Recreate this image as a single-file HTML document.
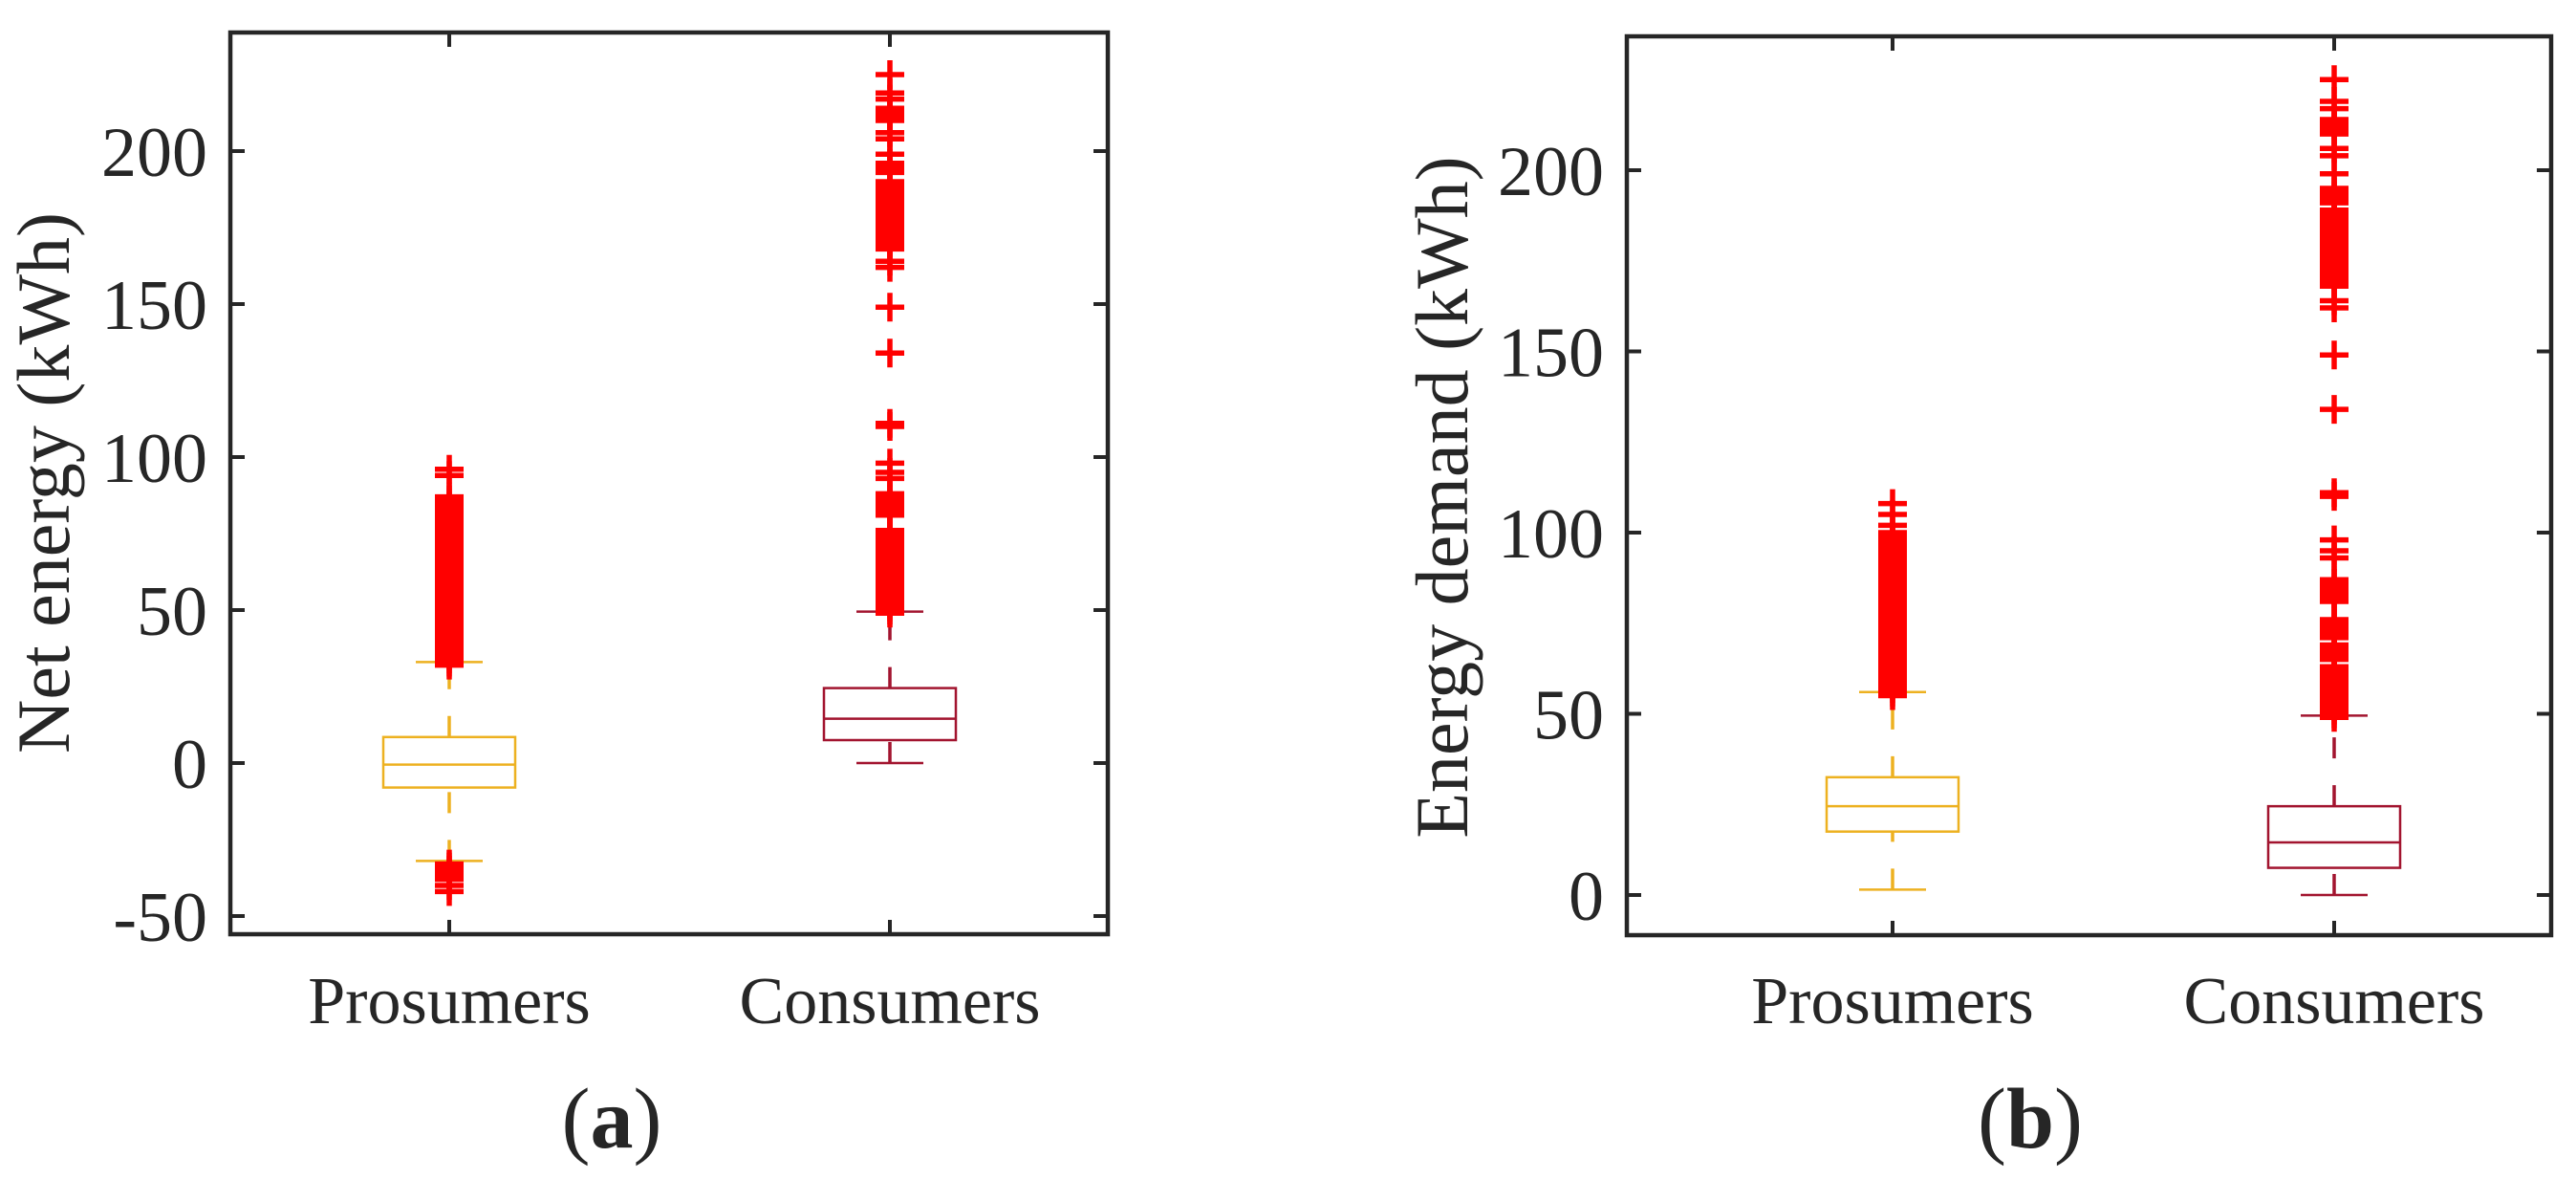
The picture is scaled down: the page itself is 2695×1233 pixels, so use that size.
<!DOCTYPE html>
<html><head><meta charset="utf-8">
<style>
html,body{margin:0;padding:0;background:#fff;}
svg{display:block;}
text{font-family:"Liberation Serif",serif;fill:#262626;}
</style></head>
<body>
<svg id="chart" width="2695" height="1233" viewBox="0 0 2695 1233" xmlns="http://www.w3.org/2000/svg"></svg>
<script>
// ---- data ----
const categories = ["Prosumers", "Consumers"];
const ticksA = [-50, 0, 50, 100, 150, 200];
const ticksB = [0, 50, 100, 150, 200];
// [lowerWhisker, q1, median, q3, upperWhisker]
const statsA_prosumers = [-32, -8, -0.5, 8.5, 33];
const statsA_consumers = [0, 7.5, 14.5, 24.5, 49.5];
const statsB_prosumers = [1.5, 17.5, 24.5, 32.5, 56];
const statsB_consumers = [0, 7.5, 14.5, 24.5, 49.5];
const outliersA_prosumers = [32,33,34,35,36,37,38,39,40,41,42,43,44,45,46,47,48,49,50,51,52,53,54,55,56,57,58,59,60,61,62,63,64,65,66,67,68,69,70,71,72,73,74,75,76,77,78,79,80,81,82,83,84,85,86,87,94,96,-33,-34,-35,-36,-37,-38,-40,-42];
const outliersA_consumers = [49,50,51,52,53,54,55,56,57,58,59,60,61,62,63,64,65,66,67,68,69,70,71,72,73,74,75,76,81,82,83,84,85,86,87,88,93,95,98,110,111,134,149,162,164,168,169,170,171,172,173,174,175,176,177,178,179,180,181,182,183,184,185,186,187,188,189,190,193,194,195,196,199,204,206,210,211,212,213,214,217,219,225];
const outliersB_prosumers = [55,56,57,58,59,60,61,62,63,64,65,66,67,68,69,70,71,72,73,74,75,76,77,78,79,80,81,82,83,84,85,86,87,88,89,90,91,92,93,94,95,96,97,98,99,100,102,105,108];
const outliersB_consumers = [49,50,51,52,53,54,55,56,57,58,59,60,61,62,63,65,66,67,68,69,71,72,73,74,75,76,81,82,83,84,85,86,87,93,95,98,110,111,134,149,162,164,168,169,170,171,172,173,174,175,176,177,178,179,180,181,182,183,184,185,186,187,188,189,191,192,193,194,195,199,204,206,210,211,212,213,214,217,219,225];

const NS = "http://www.w3.org/2000/svg";
const svg = document.getElementById("chart");
function mk(tag, attrs, parent) {
  const e = document.createElementNS(NS, tag);
  for (const k in attrs) e.setAttribute(k, attrs[k]);
  (parent || svg).appendChild(e);
  return e;
}
const COLORS = ["#EDB120", "#A2142F"];

function panel(cfg) {
  const g = mk("g", {});
  
  
  const y = v => cfg.y0 - cfg.k * v;
  const frame = mk("rect", {x: cfg.L, y: cfg.T, width: cfg.R - cfg.L, height: cfg.B - cfg.T, fill: "none", stroke: "#262626", "stroke-width": 4.5}, g);
  
  
  cfg.ticks.forEach(t => {
    const yy = y(t);
    mk("line", {x1: cfg.L, x2: cfg.L + 15, y1: yy, y2: yy, stroke: "#262626", "stroke-width": 4}, g);
    mk("line", {x1: cfg.R - 15, x2: cfg.R, y1: yy, y2: yy, stroke: "#262626", "stroke-width": 4}, g);
    const tx = mk("text", {x: cfg.L - 24, y: yy, dy: "0.35em", "text-anchor": "end", "font-size": 74}, g);
    tx.textContent = t;
    
    
  });
  categories.forEach((c, i) => {
    const cx = cfg.xs[i];
    mk("line", {x1: cx, x2: cx, y1: cfg.B, y2: cfg.B - 15, stroke: "#262626", "stroke-width": 4}, g);
    mk("line", {x1: cx, x2: cx, y1: cfg.T, y2: cfg.T + 15, stroke: "#262626", "stroke-width": 4}, g);
    const tx = mk("text", {x: cx, y: 1070, "text-anchor": "middle", "font-size": 70}, g);
    tx.textContent = c;
    
    
    const s = cfg.stats[i], col = COLORS[i];
    const bg = mk("g", {}, g);
    
    
    const dash = "22 28";
    mk("line", {x1: cx, x2: cx, y1: y(s[0]), y2: y(s[1]), stroke: col, "stroke-width": 3.5, "stroke-dasharray": dash}, bg);
    mk("line", {x1: cx, x2: cx, y1: y(s[3]), y2: y(s[4]), stroke: col, "stroke-width": 3.5, "stroke-dasharray": dash}, bg);
    mk("line", {x1: cx - 35, x2: cx + 35, y1: y(s[0]), y2: y(s[0]), stroke: col, "stroke-width": 2.5}, bg);
    mk("line", {x1: cx - 35, x2: cx + 35, y1: y(s[4]), y2: y(s[4]), stroke: col, "stroke-width": 2.5}, bg);
    mk("rect", {x: cx - 69, y: y(s[3]), width: 138, height: y(s[1]) - y(s[3]), fill: "none", stroke: col, "stroke-width": 2.5}, bg);
    mk("line", {x1: cx - 69, x2: cx + 69, y1: y(s[2]), y2: y(s[2]), stroke: col, "stroke-width": 2.5}, bg);
    cfg.outliers[i].forEach(v => {
      const yy = y(v);
      const p = mk("path", {d: `M${cx-15},${yy}H${cx+15}M${cx},${yy-15}V${yy+15}`, stroke: "#FF0000", "stroke-width": 5.5, fill: "none"}, bg);
      
      
    });
  });
  const yl = mk("text", {x: 0, y: 0, transform: `translate(${cfg.ylx},${cfg.yly}) rotate(-90)`, "text-anchor": "middle", "font-size": 78}, g);
  yl.textContent = cfg.ylabel;
  
  
  const cap = mk("text", {x: cfg.capx, y: 1200, "text-anchor": "middle", "font-size": 90}, g);
  const t1 = mk("tspan", {}, cap); t1.textContent = "(";
  const t2 = mk("tspan", {"font-weight": "bold"}, cap); t2.textContent = cfg.cap;
  const t3 = mk("tspan", {}, cap); t3.textContent = ")";
  
  
}

panel({name: "panel-a", L: 241, R: 1159, T: 34, B: 977, y0: 798, k: 3.2, xs: [470, 931],
  ticks: ticksA, stats: [statsA_prosumers, statsA_consumers], outliers: [outliersA_prosumers, outliersA_consumers],
  ylabel: "Net energy (kWh)", ylx: 72, yly: 505, capx: 640, cap: "a"});
panel({name: "panel-b", L: 1702, R: 2669, T: 38, B: 978, y0: 936, k: 3.79, xs: [1980, 2442],
  ticks: ticksB, stats: [statsB_prosumers, statsB_consumers], outliers: [outliersB_prosumers, outliersB_consumers],
  ylabel: "Energy demand (kWh)", ylx: 1535, yly: 520, capx: 2124, cap: "b"});
</script>
</body></html>
